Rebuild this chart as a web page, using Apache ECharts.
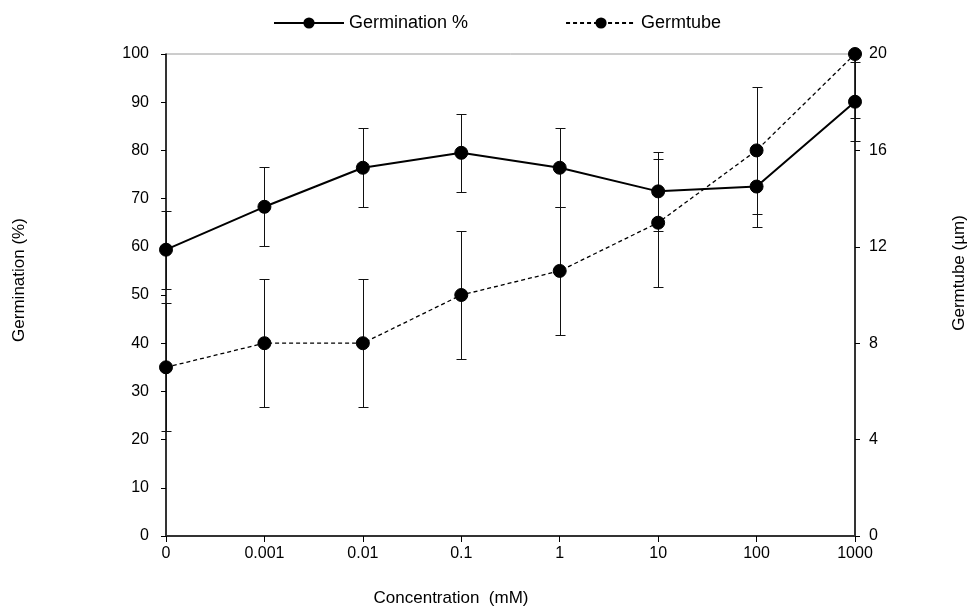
<!DOCTYPE html>
<html>
<head>
<meta charset="utf-8">
<script src="https://cdn.jsdelivr.net/npm/echarts@6/dist/echarts.min.js"></script>
<style>
html,body{margin:0;padding:0;background:#fff;}
#chart{width:973px;height:609px;}
</style>
</head>
<body>
<div id="chart"></div>
<script>
// ---- data ----
const categories = ['0', '0.001', '0.01', '0.1', '1', '10', '100', '1000'];
const germination = [59.4, 68.3, 76.4, 79.5, 76.4, 71.5, 72.5, 90.1];
const germinationErr = [8.1, 8.2, 8.2, 8.1, 8.2, 8.2, 8.3, 8.2];
const germtube = [7, 8, 8, 10, 11, 13, 16, 20];
const germtubeErr = [2.65, 2.65, 2.65, 2.65, 2.65, 2.65, 2.65, 2.65];
const leftTicks = {min: 0, max: 100, interval: 10};
const rightTicks = {min: 0, max: 20, interval: 4};

const FONT = 'Liberation Sans, Arial, sans-serif';

function errData(vals, errs) {
  return vals.map((v, i) => [i, v - errs[i], v + errs[i]]);
}

function errRender(params, api) {
  const x = api.value(0);
  const lo = api.coord([x, api.value(1)]);
  const hi = api.coord([x, api.value(2)]);
  const cs = params.coordSys;
  const top = cs.y, bottom = cs.y + cs.height;
  const cx = Math.round(lo[0]) + 0.5;
  let yl = lo[1], yh = hi[1];
  const capHi = yh >= top, capLo = yl <= bottom;
  yh = Math.max(yh, top); yl = Math.min(yl, bottom);
  yl = Math.round(yl) + 0.5; yh = Math.round(yh) + 0.5;
  const w = 5;
  const st = {stroke: '#111', lineWidth: 1};
  const children = [{type: 'line', shape: {x1: cx, y1: yh, x2: cx, y2: yl}, style: st}];
  if (capHi) children.push({type: 'line', shape: {x1: cx - w, y1: yh, x2: cx + w, y2: yh}, style: st});
  if (capLo) children.push({type: 'line', shape: {x1: cx - w, y1: yl, x2: cx + w, y2: yl}, style: st});
  return {type: 'group', children: children};
}

const chart = echarts.init(document.getElementById('chart'), null, {renderer: 'canvas'});
chart.setOption({
  animation: false,
  backgroundColor: '#fff',
  textStyle: {fontFamily: FONT},
  grid: {
    left: 166, right: 118, top: 54, bottom: 73,
    show: true, borderColor: '#9a9a9a', borderWidth: 1, backgroundColor: 'transparent'
  },
  legend: {
    top: 9, left: 268,
    itemWidth: 70, itemHeight: 14, itemGap: 97,
    textStyle: {fontFamily: FONT, fontSize: 18, color: '#000'},
    data: ['Germination %', 'Germtube']
  },
  xAxis: {
    type: 'category',
    data: categories,
    boundaryGap: false,
    axisLine: {lineStyle: {color: '#333', width: 2}},
    axisTick: {show: true, length: 6, lineStyle: {color: '#000', width: 1}},
    axisLabel: {fontFamily: FONT, fontSize: 16, color: '#000', margin: 10},
    splitLine: {show: false}
  },
  yAxis: [
    {
      type: 'value', position: 'left',
      min: leftTicks.min, max: leftTicks.max, interval: leftTicks.interval,
      axisLine: {show: true, lineStyle: {color: '#000', width: 1.5}},
      axisTick: {show: true, length: 5, lineStyle: {color: '#000'}},
      axisLabel: {fontFamily: FONT, fontSize: 16, color: '#000', margin: 17},
      splitLine: {show: false}
    },
    {
      type: 'value', position: 'right',
      min: rightTicks.min, max: rightTicks.max, interval: rightTicks.interval,
      axisLine: {show: true, lineStyle: {color: '#000', width: 1.5}},
      axisTick: {show: true, length: 5, lineStyle: {color: '#000'}},
      axisLabel: {fontFamily: FONT, fontSize: 16, color: '#000', margin: 14},
      splitLine: {show: false}
    }
  ],
  graphic: [
    {
      type: 'text', x: 19, y: 280, rotation: Math.PI / 2,
      style: {text: 'Germination (%)', font: '17px ' + FONT, fill: '#000', align: 'center', verticalAlign: 'middle'}
    },
    {
      type: 'text', x: 959, y: 273, rotation: Math.PI / 2,
      style: {text: 'Germtube (µm)', font: '17px ' + FONT, fill: '#000', align: 'center', verticalAlign: 'middle'}
    },
    {
      type: 'text', x: 451, y: 598,
      style: {text: 'Concentration  (mM)', font: '17px ' + FONT, fill: '#000', align: 'center', verticalAlign: 'middle'}
    }
  ],
  series: [
    {
      name: 'GerminationErr', type: 'custom', yAxisIndex: 0, clip: false, z: 2,
      renderItem: errRender, encode: {x: 0, y: [1, 2]},
      data: errData(germination, germinationErr), silent: true
    },
    {
      name: 'GermtubeErr', type: 'custom', yAxisIndex: 1, clip: false, z: 2,
      renderItem: errRender, encode: {x: 0, y: [1, 2]},
      data: errData(germtube, germtubeErr), silent: true
    },
    {
      name: 'Germination %', type: 'line', yAxisIndex: 0, z: 4,
      data: germination,
      symbol: 'circle', symbolSize: 13,
      lineStyle: {color: '#000', width: 2, type: 'solid'},
      itemStyle: {color: '#000', borderColor: '#000'},
      clip: false
    },
    {
      name: 'Germtube', type: 'line', yAxisIndex: 1, z: 3,
      data: germtube,
      symbol: 'circle', symbolSize: 13,
      lineStyle: {color: '#000', width: 1.3, type: [4, 3]},
      itemStyle: {color: '#000', borderColor: '#000'},
      clip: false
    }
  ]
});
</script>
</body>
</html>
